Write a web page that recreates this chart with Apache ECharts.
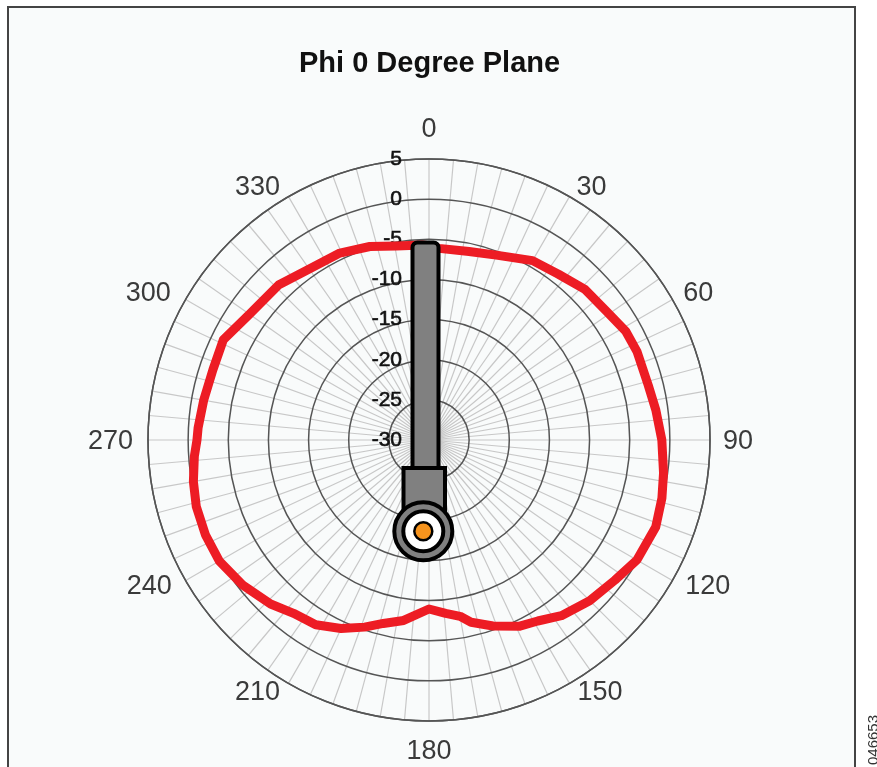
<!DOCTYPE html>
<html>
<head>
<meta charset="utf-8">
<title>Phi 0 Degree Plane</title>
<script src="https://cdn.jsdelivr.net/npm/echarts@6/dist/echarts.min.js"></script>
<style>
  html, body { margin: 0; padding: 0; background: #fff; overflow: hidden; }
  #chart { width: 877px; height: 767px; }
</style>
</head>
<body>
<div id="chart"></div>
<script>
// pattern: angle in degrees, gain in dB
var angles = [0, 3, 12, 20, 30, 38, 46, 54, 61, 67, 76, 82.5, 90, 98, 104, 111, 120, 127, 135, 143,
  149, 154, 161, 167, 170, 174.5, 180, 188, 194, 199, 205, 211.5, 218, 224, 232, 240, 247, 254,
  260, 266, 270, 273, 280, 288, 296, 305, 316, 325, 334.5, 343, 350.5, 358, 360];
var gains = [-5.8, -6.1, -6.0, -5.5, -4.2, -3.8, -3.0, -2.7, -2.0, -1.85, -1.85, -1.5, -1.0, -0.5, -0.1, 0.25, -0.1, -1.0, -1.7, -2.6,
  -3.7, -4.2, -5.5, -6.7, -7.7, -8.3, -8.95, -7.3, -6.45, -5.35, -4.1, -3.0, -2.6, -1.6, -0.6, 0.15, 0.25, 0.15,
  -0.2, -0.7, -1.1, -1.2, -1.5, -1.7, -1.5, -2.7, -3.1, -4.0, -4.2, -4.8, -5.5, -5.7, -5.8];

var chart = echarts.init(document.getElementById("chart"));

// the angle labels in the original do not sit on a perfect circle, so each one gets its own padding
var labelPadding = {
  0: [0, 0, 66, 0],
  30: [0, 0, 22, 14],
  60: [0, 0, 5, 23],
  90: [4, 0, 0, 27],
  120: [7, 0, 0, 25],
  150: [22, 0, 0, 15],
  180: [70, 0, 0, 0],
  210: [22, 15.5, 0, 0],
  240: [7, 26, 0, 0],
  270: [4, 29, 0, 0],
  300: [0, 27, 5, 0],
  330: [0, 15.5, 22, 0],
};
var labelRich = {};
Object.keys(labelPadding).forEach(function (k) {
  labelRich["a" + k] = {
    padding: labelPadding[k],
    fontFamily: "Liberation Sans",
    fontSize: 27,
    lineHeight: 20,
    color: "#3a3a3a",
  };
});

// antenna drawing on top of the plot
var stroke = { stroke: "#000", lineWidth: 4 };
var antenna = [
  { type: "rect", shape: { x: 412.5, y: 242.5, width: 26, height: 240, r: 5 }, style: Object.assign({ fill: "#808080" }, stroke) },
  { type: "rect", shape: { x: 403.5, y: 468, width: 41.5, height: 50 }, style: Object.assign({ fill: "#808080" }, stroke) },
  { type: "circle", shape: { cx: 423.3, cy: 531.3, r: 29 }, style: Object.assign({ fill: "#808080" }, stroke) },
  { type: "circle", shape: { cx: 423.3, cy: 531.3, r: 20 }, style: Object.assign({ fill: "#fff" }, stroke) },
  { type: "circle", shape: { cx: 423.3, cy: 531.3, r: 9 }, style: { fill: "#f7941d", stroke: "#000", lineWidth: 2.5 } },
].map(function (el) {
  el.z = 100;
  return el;
});

chart.setOption({
  animation: false,
  title: {
    text: "Phi 0 Degree Plane",
    left: 294,
    top: 44,
    textStyle: { fontFamily: "Liberation Sans", fontSize: 29, fontWeight: "bold", color: "#111" },
  },
  polar: { center: [429, 440], radius: 281 },
  angleAxis: {
    type: "value",
    startAngle: 90,
    clockwise: true,
    min: 0,
    max: 360,
    interval: 5,
    axisLine: { lineStyle: { color: "#555", width: 1.5 } },
    axisTick: { show: false },
    splitLine: { lineStyle: { color: "#c8c8c8", width: 1.2 } },
    axisLabel: {
      margin: -14,
      rich: labelRich,
      formatter: function (v) {
        return v % 30 === 0 && v < 360 ? "{a" + v + "|" + v + "}" : "";
      },
    },
  },
  radiusAxis: {
    min: -30,
    max: 5,
    interval: 5,
    axisLine: { show: false },
    axisTick: { show: false },
    splitLine: { lineStyle: { color: "#555", width: 1.5 } },
    axisLabel: {
      margin: 27,
      fontFamily: "Liberation Sans",
      fontSize: 21,
      color: "#111",
      textBorderColor: "#111",
      textBorderWidth: 0.6,
    },
    z: 5,
  },
  series: [
    {
      type: "line",
      coordinateSystem: "polar",
      data: angles.map(function (a, i) {
        return [gains[i], a];
      }),
      showSymbol: false,
      smooth: false,
      lineStyle: { color: "#ed1c24", width: 9, join: "round" },
      z: 10,
    },
  ],
  graphic: [
    { type: "rect", z: -10, shape: { x: 8, y: 7, width: 847, height: 800 }, style: { fill: "#f9fbfb", stroke: "#444", lineWidth: 2 } },
    { type: "text", z: 1, x: 874, y: 715, rotation: Math.PI / 2, style: { text: "046653", fontFamily: "Liberation Sans", fontSize: 15, fill: "#333", align: "right", verticalAlign: "middle" } },
  ].concat(antenna),
});
</script>
</body>
</html>
